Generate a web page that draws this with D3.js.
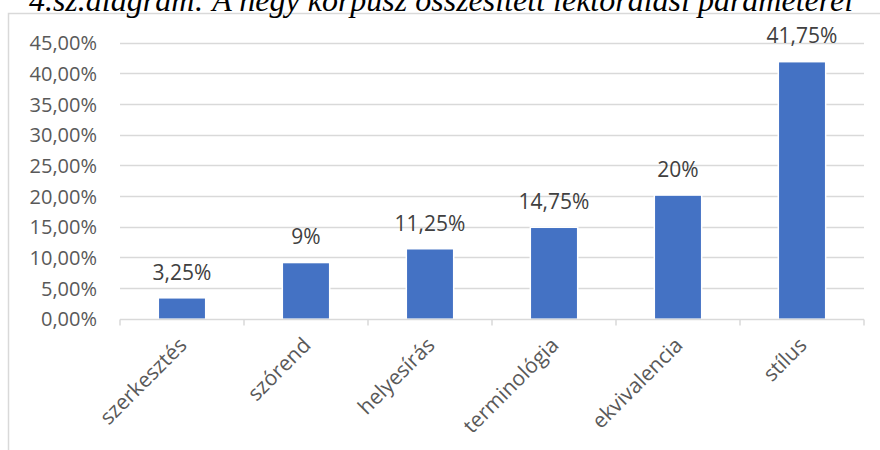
<!DOCTYPE html>
<html>
<head>
<meta charset="utf-8">
<script src="https://cdn.jsdelivr.net/npm/d3@7"></script>
<style>
  html, body { margin: 0; padding: 0; background: #fff; }
  svg { display: block; }
</style>
</head>
<body>
<svg id="chart" width="880" height="450"></svg>
<script>
// Category names and their shares (percent)
const categories = ["szerkesztés", "szórend", "helyesírás", "terminológia", "ekvivalencia", "stílus"];
const shares = [3.25, 9, 11.25, 14.75, 20, 41.75];
const valueLabels = ["3,25%", "9%", "11,25%", "14,75%", "20%", "41,75%"];
const yTicks = [0, 5, 10, 15, 20, 25, 30, 35, 40, 45];
const titleText = "4.sz.diagram: A négy korpusz összesített lektorálási paraméterei";

const svg = d3.select("#chart");
const font = "'Open Sans', 'Noto Sans', sans-serif";

// chart frame
svg.append("path")
  .attr("d", "M8.5,450 L8.5,13.5 L880,13.5")
  .attr("fill", "none")
  .attr("stroke", "#d9d9d9")
  .attr("stroke-width", 1.5);

// title (partly above the frame)
svg.append("text")
  .attr("x", 441)
  .attr("y", 11)
  .attr("text-anchor", "middle")
  .attr("font-family", "'Liberation Serif', 'Times New Roman', serif")
  .attr("font-style", "italic")
  .attr("font-size", 32)
  .attr("fill", "#000")
  .text(titleText);

const plot = { left: 120, right: 864, top: 42.5, bottom: 318.5 };

const x = d3.scaleBand()
  .domain(categories)
  .range([plot.left, plot.right])
  .paddingInner(0.63)
  .paddingOuter(0.315);

const xBand = d3.scaleBand()
  .domain(categories)
  .range([plot.left, plot.right]);

const y = d3.scaleLinear()
  .domain([0, 45])
  .range([plot.bottom, plot.top]);

// horizontal gridlines
svg.append("g")
  .selectAll("line")
  .data(yTicks.filter(d => d > 0))
  .join("line")
  .attr("x1", plot.left)
  .attr("x2", plot.right)
  .attr("y1", d => Math.round(y(d)) + 0.5)
  .attr("y2", d => Math.round(y(d)) + 0.5)
  .attr("stroke", "#d9d9d9")
  .attr("stroke-width", 1.5);

// y axis labels
const yAxis = d3.axisLeft(y)
  .tickValues(yTicks)
  .tickSize(0)
  .tickPadding(0)
  .tickFormat(d => d3.format(".2f")(d).replace(".", ",") + "%");

svg.append("g")
  .attr("transform", `translate(${plot.left - 23},0)`)
  .call(yAxis)
  .call(g => g.select(".domain").remove())
  .call(g => g.selectAll("text")
    .attr("font-family", font)
    .attr("font-size", 20)
    .attr("fill", "#595959")
    .attr("dy", "0.36em"));

// bars with a thin white edge
svg.append("g")
  .selectAll("rect")
  .data(categories)
  .join("rect")
  .attr("x", (d) => x(d))
  .attr("width", x.bandwidth())
  .attr("y", (d, i) => y(shares[i]))
  .attr("height", (d, i) => plot.bottom - y(shares[i]))
  .attr("fill", "#4472c4")
  .attr("stroke", "#fff")
  .attr("stroke-width", 3)
  .attr("paint-order", "stroke");

// x axis baseline with tick marks at band boundaries
const xAxis = d3.axisBottom(xBand).tickSize(0).tickFormat("");
const xg = svg.append("g")
  .attr("transform", `translate(0,${Math.round(plot.bottom) + 0.5})`)
  .call(xAxis);
xg.select(".domain")
  .attr("d", `M${plot.left},0H${plot.right}`)
  .attr("stroke", "#d9d9d9")
  .attr("stroke-width", 1.5);
xg.selectAll(".tick").remove();
const bounds = categories.map(d => xBand(d)).concat([plot.right]);
xg.selectAll(".bound")
  .data(bounds)
  .join("line")
  .attr("class", "bound")
  .attr("x1", d => d)
  .attr("x2", d => d)
  .attr("y1", 0)
  .attr("y2", 6)
  .attr("stroke", "#d9d9d9")
  .attr("stroke-width", 1.5);

// category labels, rotated
svg.append("g")
  .selectAll("text")
  .data(categories)
  .join("text")
  .attr("transform", d => `translate(${xBand(d) + xBand.bandwidth() / 2 + 6},${plot.bottom + 28}) rotate(-45)`)
  .attr("text-anchor", "end")
  .attr("font-family", font)
  .attr("font-size", 21)
  .attr("fill", "#595959")
  .text(d => d);

// value labels above bars
svg.append("g")
  .selectAll("text")
  .data(categories)
  .join("text")
  .attr("x", d => x(d) + x.bandwidth() / 2)
  .attr("y", (d, i) => y(shares[i]) - 19)
  .attr("text-anchor", "middle")
  .attr("font-family", font)
  .attr("font-size", 21)
  .attr("fill", "#404040")
  .text((d, i) => valueLabels[i]);
</script>
</body>
</html>
